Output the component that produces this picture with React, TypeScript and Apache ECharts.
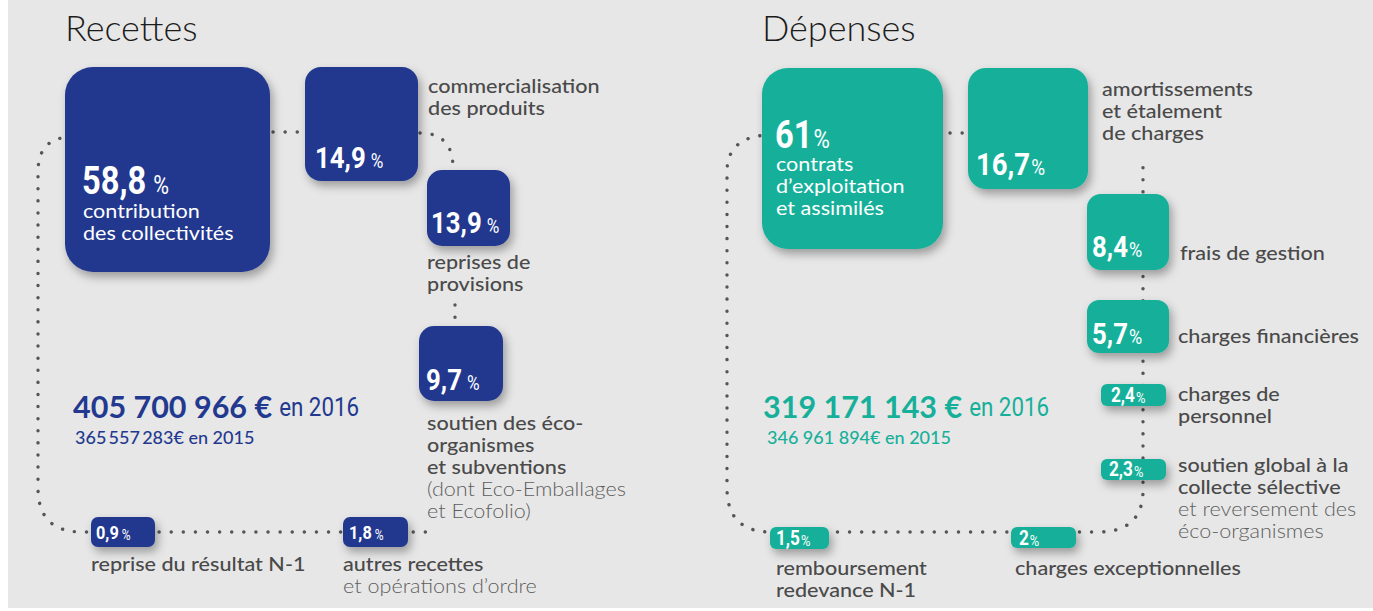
import { useEffect, useRef } from 'react';
import * as echarts from 'echarts';

// ---------------- data ----------------
const sideTitles = ['Recettes', 'Dépenses'];

const recettesShares = [58.8, 14.9, 13.9, 9.7, 0.9, 1.8];
const recettesLabels = [
  ['contribution', 'des collectivités'],
  ['commercialisation', 'des produits'],
  ['reprises de', 'provisions'],
  ['soutien des éco-', 'organismes', 'et subventions'],
  ['reprise du résultat N-1'],
  ['autres recettes'],
];
const recettesNotes = [[], [], [], ['(dont Eco-Emballages', 'et Ecofolio)'], [], ['et opérations d’ordre']];

const depensesShares = [61, 16.7, 8.4, 5.7, 2.4, 2.3, 2, 1.5];
const depensesLabels = [
  ['contrats', 'd’exploitation', 'et assimilés'],
  ['amortissements', 'et étalement', 'de charges'],
  ['frais de gestion'],
  ['charges financières'],
  ['charges de', 'personnel'],
  ['soutien global à la', 'collecte sélective'],
  ['charges exceptionnelles'],
  ['remboursement', 'redevance N-1'],
];
const depensesNotes = [[], [], [], [], [], ['et reversement des', 'éco-organismes'], [], []];

const totalYears = [2016, 2015];
const recettesTotals = [405700966, 365557283];
const depensesTotals = [319171143, 346961894];

// ---------------- layout (image coordinates) ----------------
// box: x, y, w, h, radius
const recettesBoxes = [
  [65, 67, 205, 205, 28], [305, 67, 113, 114, 16], [427, 170, 83, 76, 15],
  [419, 326, 84, 75, 15], [91, 517, 64, 30, 7], [343, 517, 65, 30, 7],
];
// number: x, centerY, size, pctSize, gap
const recettesNums = [
  [82, 181, 38, 25, 7], [315, 158, 30, 20, 5], [431, 223, 30, 20, 5],
  [426, 380, 30, 20, 5], [96, 533, 19, 14, 3], [349, 533, 19, 14, 3],
];
const recettesLabelPos = [[83, 210], [428, 85], [427, 261], [427, 422], [91, 563], [343, 563]];

const depensesBoxes = [
  [762, 68, 181, 181, 26], [968, 68, 120, 121, 18], [1087, 194, 82, 76, 14], [1087, 300, 82, 53, 12],
  [1101, 384, 65, 22, 6], [1101, 459, 65, 21, 6], [1011, 527, 65, 21, 6], [770, 527, 59, 22, 6],
];
const depensesNums = [
  [775, 135, 38, 26, 1], [976, 164, 32, 22, 1], [1092, 247, 30, 21, 1], [1092, 334, 30, 21, 1],
  [1111, 396, 20, 15, 1], [1109, 470, 20, 15, 1], [1019, 539, 20, 15, 1], [776, 539, 20, 15, 1],
];
const depensesLabelPos = [[776, 163], [1102, 88], [1180, 252], [1178, 335], [1178, 393], [1178, 464], [1015, 567], [776, 567]];

const titlePos = [[65, 27], [762, 27]];
const totalPos = [[73, 406, 75, 437], [763, 406, 767, 437]];

const recettesLinks = [
  [['M', 72, 137], ['Q', 38, 137, 38, 172], ['L', 38, 488], ['Q', 38, 532, 82, 532], ['L', 426, 532]],
  [['M', 273, 132], ['L', 299, 132]],
  [['M', 420, 133], ['Q', 453, 133, 453, 168]],
  [['M', 455, 305], ['L', 455, 318]],
];
const depensesLinks = [
  [['M', 772, 135], ['Q', 727, 135, 727, 172], ['L', 727, 488], ['Q', 727, 532, 771, 532], ['L', 1098, 532], ['Q', 1143, 532, 1143, 490], ['L', 1143, 156]],
  [['M', 950, 133], ['L', 963, 133]],
];

const BLUE = '#22398f';
const TEAL = '#16b09a';
const LABEL = '#4a4a4a';
const NOTE = '#5e5e5e';
const COND = 'Roboto, "Liberation Sans", sans-serif';
const SX = 0.86; // horizontal condensing of the figure font
const SANS = 'Lato, "Open Sans", sans-serif';
const LABEL_SIZE = 20;
const LABEL_SX = 1.08; // widen the label font
const LINE_H = 22;

const fmtShare = (v: number) => String(v).replace('.', ',');
const fmtAmount = (n: number, sep: string) => String(n).replace(/\B(?=(\d{3})+(?!\d))/g, sep);

let ctx: CanvasRenderingContext2D | null = null;
function measure(text: string, font: string) {
  if (!ctx) ctx = document.createElement('canvas').getContext('2d');
  ctx!.font = font;
  return ctx!.measureText(text).width;
}

function condText(text: string, x: number, y: number, size: number, weight: string, fill: string) {
  return {
    type: 'text',
    x,
    y,
    scaleX: SX,
    style: { text, x: 0, y: 0, fill, fontSize: size, fontFamily: COND, fontWeight: weight, align: 'left', verticalAlign: 'middle' },
  };
}

function labelText(text: string, x: number, y: number, fill: string, weight: number) {
  return {
    type: 'text',
    x,
    y,
    scaleX: LABEL_SX,
    style: { text, x: 0, y: 0, fill, fontSize: LABEL_SIZE, fontFamily: SANS, fontWeight: weight, align: 'left', verticalAlign: 'middle' },
  };
}

function sideSeries(name: string, shares: number[], labels: string[][], notes: string[][], boxes: number[][], nums: number[][], labelPos: number[][], color: string, pctText: string) {
  return {
    type: 'custom',
    name,
    coordinateSystem: 'cartesian2d',
    clip: false,
    z: 3,
    data: shares.map((v, i) => [boxes[i][0], boxes[i][1], v]),
    encode: { x: 0, y: 1 },
    renderItem: (params: any, api: any) => {
      const i = params.dataIndex;
      const [bx, by, bw, bh, r] = boxes[i];
      const p = api.coord([api.value(0), api.value(1)]);
      const s = api.size([bw, bh], [bx, by]);
      const [nx, ny, ns, ps, gap] = nums[i];
      const np = api.coord([nx, ny]);
      const numText = fmtShare(api.value(2));
      const w = measure(numText, `bold ${ns}px ${COND}`) * SX;
      const children: any[] = [
        {
          type: 'rect',
          shape: { x: p[0], y: p[1], width: s[0], height: s[1], r },
          style: { fill: color, shadowBlur: 10, shadowOffsetX: 3, shadowOffsetY: 5, shadowColor: 'rgba(0,0,0,0.33)' },
        },
        condText(numText, np[0], np[1], ns, 'bold', '#fff'),
        condText(pctText, np[0] + w + gap, np[1] + 0.345 * (ns - ps), ps, 'normal', '#fff'),
      ];
      const inside = i === 0;
      const lp = api.coord(labelPos[i]);
      labels[i].forEach((line, k) => {
        children.push(labelText(line, lp[0], lp[1] + k * LINE_H, inside ? '#fff' : LABEL, inside ? 400 : 500));
      });
      notes[i].forEach((line, k) => {
        children.push(labelText(line, lp[0], lp[1] + (labels[i].length + k) * LINE_H, NOTE, 300));
      });
      return { type: 'group', children };
    },
  };
}

function linkSeries(links: any[][], z: number) {
  return {
    type: 'custom',
    coordinateSystem: 'cartesian2d',
    clip: false,
    z,
    silent: true,
    data: links.map((l) => [l[0][1], l[0][2]]),
    encode: { x: 0, y: 1 },
    renderItem: (params: any, api: any) => {
      const segs = links[params.dataIndex];
      let d = '';
      segs.forEach((seg: any[]) => {
        d += seg[0];
        for (let k = 1; k < seg.length; k += 2) {
          const c = api.coord([seg[k], seg[k + 1]]);
          d += ' ' + c[0].toFixed(1) + ' ' + c[1].toFixed(1);
        }
        d += ' ';
      });
      return {
        type: 'path',
        shape: { pathData: d },
        style: { fill: 'none', stroke: '#555', lineWidth: 3.4, lineDash: [0.1, 12], lineCap: 'round' },
      };
    },
  };
}

export default function App() {
  const ref = useRef<HTMLDivElement>(null);
  useEffect(() => {
    if (!ref.current) return;
    const chart = echarts.init(ref.current, undefined, { renderer: 'svg' });
    const totalsData = [recettesTotals, depensesTotals];
    const sideColors = [BLUE, TEAL];
    chart.setOption({
      animation: false,
      backgroundColor: '#e7e7e7',
      grid: { left: 0, right: 0, top: 0, bottom: 0 },
      xAxis: { type: 'value', min: 8, max: 1373, show: false },
      yAxis: { type: 'value', min: 0, max: 608, inverse: true, show: false },
      series: [
        linkSeries(recettesLinks, 1),
        linkSeries(depensesLinks, 1),
        sideSeries('Recettes', recettesShares, recettesLabels, recettesNotes, recettesBoxes, recettesNums, recettesLabelPos, BLUE, '%'),
        sideSeries('Dépenses', depensesShares, depensesLabels, depensesNotes, depensesBoxes, depensesNums, depensesLabelPos, TEAL, '%'),
        {
          type: 'custom',
          name: 'titres',
          coordinateSystem: 'cartesian2d',
          clip: false,
          z: 4,
          data: sideTitles.map((t, i) => [titlePos[i][0], titlePos[i][1], t]),
          encode: { x: 0, y: 1 },
          renderItem: (params: any, api: any) => {
            const i = params.dataIndex;
            const p = api.coord([titlePos[i][0], titlePos[i][1]]);
            return {
              type: 'text',
              style: { text: sideTitles[i], x: p[0], y: p[1], fill: '#1c1c1c', fontSize: 36, fontFamily: SANS, fontWeight: 300, align: 'left', verticalAlign: 'middle' },
            };
          },
        },
        {
          type: 'custom',
          name: 'totaux',
          coordinateSystem: 'cartesian2d',
          clip: false,
          z: 4,
          data: totalsData.map((t, i) => [totalPos[i][0], totalPos[i][1], t[0], t[1]]),
          encode: { x: 0, y: 1 },
          renderItem: (params: any, api: any) => {
            const i = params.dataIndex;
            const [x1, y1, x2, y2] = totalPos[i];
            const p1 = api.coord([x1, y1]);
            const p2 = api.coord([x2, y2]);
            const col = sideColors[i];
            const big = fmtAmount(api.value(2), ' ') + ' €';
            const bw = measure(big, `bold 30.5px ${SANS}`);
            const small = fmtAmount(api.value(3), i === 0 ? '\u2009' : ' ') + '€ en ' + totalYears[1];
            return {
              type: 'group',
              children: [
                { type: 'text', style: { text: big, x: p1[0], y: p1[1], fill: col, fontSize: 30.5, fontFamily: SANS, fontWeight: 'bold', align: 'left', verticalAlign: 'middle' } },
                condText('en ' + totalYears[0], p1[0] + bw + 7, p1[1] + 0.345 * (30.5 - 26), 26, 'normal', col),
                { type: 'text', style: { text: small, x: p2[0], y: p2[1], fill: col, fontSize: 18, fontFamily: SANS, fontWeight: 500, align: 'left', verticalAlign: 'middle' } },
              ],
            };
          },
        },
      ],
    });
    return () => chart.dispose();
  }, []);
  return <div ref={ref} style={{ position: 'absolute', left: 8, top: 0, width: 1365, height: 608 }} />;
}
